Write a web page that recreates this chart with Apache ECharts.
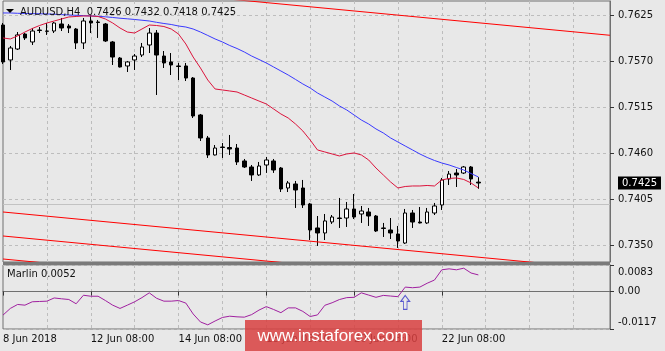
<!DOCTYPE html>
<html><head><meta charset="utf-8">
<script src="https://cdn.jsdelivr.net/npm/echarts@6/dist/echarts.min.js"></script>
<style>html,body{margin:0;padding:0;background:#e8e8e8;}#c{width:665px;height:351px;}</style>
</head><body><div id="c"></div>
<script>
const symbolName = "AUDUSD,H4";
const indicatorName = "Marlin";
const slotCount = 84;
const timeTickIndex = [0, 12, 24, 36, 48, 60];
const timeTickLabels = ["8 Jun 2018", "12 Jun 08:00", "14 Jun 08:00", "18 Jun 08:00", "20 Jun 08:00", "22 Jun 08:00"];
const priceTicks = [0.7625, 0.7570, 0.7515, 0.7460, 0.7405, 0.7350];
const priceMin = 0.73305, priceMax = 0.76426;
const marlinTicks = [0.0083, 0, -0.0117];
const marlinTickLabels = ["0.0083", "0.00", "-0.0117"];

const candleOpen = [0.76139,0.75721,0.75852,0.76031,0.75936,0.76079,0.76067,0.76067,0.76151,0.76127,0.76091,0.75924,0.76187,0.76175,0.76151,0.75936,0.75744,0.75649,0.75721,0.75780,0.75900,0.76043,0.75768,0.75697,0.75649,0.75649,0.75505,0.75063,0.74788,0.74585,0.74680,0.74674,0.74668,0.74513,0.74441,0.74346,0.74465,0.74513,0.74429,0.74190,0.74238,0.74190,0.73999,0.73712,0.73652,0.73784,0.73831,0.73831,0.73939,0.73879,0.73903,0.73855,0.73712,0.73688,0.73640,0.73532,0.73891,0.73783,0.73772,0.73891,0.73987,0.74298,0.74369,0.74369,0.74441,0.7426];
const candleClose = [0.75697,0.75864,0.76020,0.75984,0.76067,0.76073,0.76064,0.76163,0.76103,0.76103,0.75924,0.76187,0.76163,0.76169,0.75948,0.75756,0.75637,0.75697,0.75768,0.75876,0.76043,0.75780,0.75685,0.75661,0.75643,0.75505,0.75051,0.74788,0.74585,0.74668,0.74674,0.74656,0.74501,0.74441,0.74346,0.74453,0.74525,0.74405,0.74178,0.74250,0.74166,0.73987,0.73688,0.73652,0.73796,0.73843,0.73825,0.73939,0.73843,0.73915,0.73855,0.73676,0.73706,0.73652,0.73556,0.73891,0.73783,0.73772,0.73903,0.73975,0.74286,0.74357,0.74346,0.74441,0.74298,0.7425];
const candleLow = [0.75673,0.75601,0.75840,0.75960,0.75900,0.76043,0.76020,0.76043,0.76067,0.76043,0.75852,0.75852,0.76043,0.75984,0.75936,0.75661,0.75631,0.75577,0.75601,0.75756,0.75804,0.75302,0.75625,0.75541,0.75481,0.75469,0.75027,0.74752,0.74549,0.74579,0.74549,0.74585,0.74465,0.74429,0.74274,0.74334,0.74370,0.74370,0.74142,0.74142,0.73951,0.73951,0.73568,0.73497,0.73568,0.73760,0.73712,0.73724,0.73819,0.73772,0.73736,0.73664,0.73604,0.73580,0.73473,0.73521,0.73712,0.73766,0.73760,0.73867,0.73927,0.74226,0.74202,0.74357,0.74226,0.7418];
const candleHigh = [0.76163,0.75888,0.76055,0.76043,0.76103,0.76115,0.76163,0.76175,0.76223,0.76151,0.76103,0.76223,0.76259,0.76199,0.76163,0.75948,0.75756,0.75709,0.75792,0.75924,0.76103,0.76079,0.75828,0.75804,0.75685,0.75685,0.75517,0.75075,0.74812,0.74704,0.74728,0.74824,0.74716,0.74537,0.74465,0.74501,0.74561,0.74537,0.74441,0.74274,0.74274,0.74286,0.74011,0.73855,0.73879,0.73867,0.74071,0.74023,0.74118,0.73975,0.73951,0.73867,0.73772,0.73831,0.73736,0.73939,0.73927,0.73963,0.73951,0.74011,0.74310,0.74393,0.74417,0.74453,0.74453,0.7432];

const maSlow = [0.76283,0.76283,0.76279,0.76277,0.76275,0.76273,0.76271,0.76268,0.76263,0.76259,0.76255,0.76251,0.76247,0.76243,0.76237,0.76229,0.76220,0.76213,0.76205,0.76196,0.76187,0.76171,0.76157,0.76145,0.76127,0.76115,0.76091,0.76055,0.76014,0.75972,0.75936,0.75894,0.75858,0.75816,0.75768,0.75727,0.75685,0.75637,0.75589,0.75541,0.75488,0.75434,0.75386,0.75326,0.75278,0.75230,0.75171,0.75123,0.75063,0.75003,0.74955,0.74896,0.74848,0.74788,0.74740,0.74692,0.74645,0.74597,0.74555,0.74519,0.74489,0.74465,0.74435,0.74405,0.74363,0.74322];
const maFast = [0.75984,0.75972,0.76008,0.76055,0.76097,0.76133,0.76163,0.76187,0.76211,0.76235,0.76241,0.76247,0.76247,0.76241,0.76211,0.76163,0.76103,0.76055,0.76043,0.76091,0.76139,0.76133,0.76121,0.76091,0.76031,0.75912,0.75756,0.75625,0.75481,0.75374,0.75362,0.75350,0.75338,0.75302,0.75266,0.75230,0.75195,0.75135,0.75075,0.75027,0.74955,0.74872,0.74764,0.74645,0.74621,0.74597,0.74573,0.74597,0.74609,0.74585,0.74525,0.74429,0.74346,0.74262,0.74190,0.74208,0.74214,0.74214,0.74220,0.74214,0.74286,0.74304,0.74310,0.74292,0.74250,0.74190];

const channelUpper = [[0, 0.76706], [83, 0.76016]];
const channelLowA = [[0, 0.73903], [83, 0.73213]];
const channelLowB = [[0, 0.73616], [83, 0.72926]];
const channelLowC = [[0, 0.73341], [83, 0.72651]];

const marlin = [-0.00735,-0.00527,-0.00403,-0.00425,-0.00319,-0.0031,-0.0030,-0.0020,-0.00226,-0.00248,-0.00381,-0.00115,-0.00146,-0.00146,-0.0028,-0.00425,-0.00527,-0.00425,-0.0032,-0.0019,-0.0004,-0.0021,-0.0030,-0.0030,-0.0028,-0.0036,-0.0070,-0.0095,-0.0104,-0.0092,-0.0081,-0.0077,-0.0079,-0.0080,-0.0072,-0.0058,-0.0047,-0.0056,-0.0066,-0.0051,-0.0051,-0.0062,-0.0078,-0.0073,-0.0043,-0.0035,-0.0025,-0.0019,-0.0018,-0.0004,-0.0011,-0.0018,-0.0012,-0.0014,-0.0016,0.0014,0.0012,0.0014,0.0026,0.0036,0.0068,0.0071,0.0068,0.0073,0.0058,0.0052];
const signalIndex = [55];
const signalValue = [-0.0034];

const FONT = 'DejaVu Sans';
const categories = Array.from({length: slotCount}, (_, i) => {
  const k = timeTickIndex.indexOf(i);
  return k >= 0 ? timeTickLabels[k] : 'bar' + i;
});
const last = candleOpen.length - 1;
const lastClose = candleClose[last];
const titleText = symbolName + '  ' + [candleOpen[last], candleHigh[last], candleLow[last], candleClose[last]].map(v => v.toFixed(4)).join(' ');
const marlinText = indicatorName + ' ' + marlin[marlin.length - 1].toFixed(4);
const priceLabelValues = priceTicks.concat([lastClose]);

const gridDash = {color: '#bdbdbd', type: [3, 3], width: 1};
const frameColor = '#707070';
const isTimeTick = (i) => timeTickIndex.indexOf(i) >= 0;

const chart = echarts.init(document.getElementById('c'), null, {renderer: 'canvas'});
chart.setOption({
  animation: false,
  backgroundColor: '#e8e8e8',
  textStyle: {fontFamily: FONT},
  grid: [
    {left: 3, top: 1, width: 607, height: 261, show: true, borderColor: frameColor, borderWidth: 1},
    {left: 3, top: 265, width: 607, height: 64, show: true, borderColor: frameColor, borderWidth: 1}
  ],
  xAxis: [
    {type: 'category', gridIndex: 0, data: categories, boundaryGap: false,
     axisLine: {show: false}, axisTick: {show: false}, axisLabel: {show: false},
     splitLine: {show: true, interval: (i) => i > 0 && i % 6 === 0, lineStyle: gridDash}},
    {type: 'category', gridIndex: 1, data: categories, boundaryGap: false,
     axisLine: {show: true, lineStyle: {color: frameColor}},
     axisTick: {show: true, interval: isTimeTick, length: 4, lineStyle: {color: '#333'}},
     axisLabel: {show: true, interval: isTimeTick, align: 'left', margin: 5, color: '#111', fontFamily: FONT, fontSize: 10,
                 formatter: (v) => v},
     splitLine: {show: true, interval: (i) => i > 0 && i % 6 === 0, lineStyle: gridDash}}
  ],
  yAxis: [
    {type: 'value', gridIndex: 0, position: 'right', min: priceMin, max: priceMax,
     axisLine: {show: true, lineStyle: {color: frameColor}},
     axisTick: {show: true, customValues: priceTicks, length: 4, lineStyle: {color: '#333'}},
     axisLabel: {customValues: priceLabelValues, hideOverlap: false, color: '#111', fontFamily: FONT, fontSize: 10, margin: 8,
       formatter: (v) => Math.abs(v - lastClose) < 1e-9 ? '{cur|' + v.toFixed(4) + '}' : v.toFixed(4),
       rich: {cur: {backgroundColor: '#000', color: '#fff', padding: [2, 4, 1, 4], fontFamily: FONT, fontSize: 10}}},
     splitLine: {show: true, lineStyle: gridDash}},
    {type: 'value', gridIndex: 1, position: 'right', min: marlinTicks[2], max: marlinTicks[0],
     axisLine: {show: true, lineStyle: {color: frameColor}},
     axisTick: {show: true, customValues: marlinTicks, length: 4, lineStyle: {color: '#333'}},
     axisLabel: {customValues: marlinTicks, color: '#111', fontFamily: FONT, fontSize: 10, margin: 8,
       formatter: (v) => {
         let k = marlinTicks.findIndex(t => Math.abs(t - v) < 1e-9);
         if (k < 0) return '';
         if (k === 0) return '{t|' + marlinTickLabels[k] + '}';
         if (k === 2) return '{b|' + marlinTickLabels[k] + '}';
         return marlinTickLabels[k];
       },
       rich: {t: {padding: [14, 0, 0, 0], fontFamily: FONT, fontSize: 10, color: '#111'},
              b: {padding: [0, 0, 13, 0], fontFamily: FONT, fontSize: 10, color: '#111'}}},
     splitLine: {show: true, lineStyle: gridDash}}
  ],
  series: [
    {type: 'candlestick', xAxisIndex: 0, yAxisIndex: 0, barWidth: 4,
     data: candleOpen.map((o, i) => [o, candleClose[i], candleLow[i], candleHigh[i]]),
     itemStyle: {color: '#ffffff', color0: '#000000', borderColor: '#000000', borderColor0: '#000000', borderWidth: 1},
     markLine: {symbol: 'none', silent: true, z: 1,
       data: [{yAxis: lastClose}],
       lineStyle: {color: '#c2c2c2', type: 'solid', width: 1},
       label: {show: false}}},
    {type: 'line', xAxisIndex: 0, yAxisIndex: 0, data: maSlow, showSymbol: false, lineStyle: {color: '#3a3aff', width: 1}, itemStyle: {color: '#3a3aff'}},
    {type: 'line', xAxisIndex: 0, yAxisIndex: 0, data: maFast, showSymbol: false, lineStyle: {color: '#dc143c', width: 1}, itemStyle: {color: '#dc143c'}},
    {type: 'line', xAxisIndex: 0, yAxisIndex: 0, data: channelUpper, showSymbol: false, clip: true, lineStyle: {color: '#ff0000', width: 1}},
    {type: 'line', xAxisIndex: 0, yAxisIndex: 0, data: channelLowA, showSymbol: false, clip: true, lineStyle: {color: '#ff0000', width: 1}},
    {type: 'line', xAxisIndex: 0, yAxisIndex: 0, data: channelLowB, showSymbol: false, clip: true, lineStyle: {color: '#ff0000', width: 1}},
    {type: 'line', xAxisIndex: 0, yAxisIndex: 0, data: channelLowC, showSymbol: false, clip: true, lineStyle: {color: '#ff0000', width: 1}},
    {type: 'line', xAxisIndex: 1, yAxisIndex: 1, data: marlin, showSymbol: false, lineStyle: {color: '#a020a0', width: 1}},
    {type: 'scatter', xAxisIndex: 1, yAxisIndex: 1, data: signalIndex.map((x, k) => [x, signalValue[k]]),
     symbol: 'path://M5,0 L10,6 L7,6 L7,14 L3,14 L3,6 L0,6 Z', symbolSize: [9, 14],
     itemStyle: {color: 'rgba(0,0,0,0)', borderColor: '#3232c8', borderWidth: 1}}
  ],
  graphic: [
    {type: 'rect', left: 3, top: 262, shape: {width: 607, height: 3}, style: {fill: '#7a7a7a'}, z: 100},
    {type: 'polygon', shape: {points: [[6, 9], [14, 9], [10, 13]]}, style: {fill: '#000'}, z: 100},
    {type: 'text', x: 20, y: 12, style: {text: titleText, font: '10px "DejaVu Sans"', fill: '#111', verticalAlign: 'middle'}, z: 100},
    {type: 'text', x: 7, y: 274, style: {text: marlinText, font: '10px "DejaVu Sans"', fill: '#111', verticalAlign: 'middle'}, z: 100},
    {type: 'rect', shape: {x: 245, y: 320, width: 177, height: 31}, style: {fill: 'rgba(216,64,64,0.85)'}, z: 100},
    {type: 'text', x: 333, y: 336, style: {text: 'www.instaforex.com', font: '17px "Liberation Sans"', fill: '#ffffff', align: 'center', verticalAlign: 'middle'}, z: 101}
  ]
});
</script></body></html>
